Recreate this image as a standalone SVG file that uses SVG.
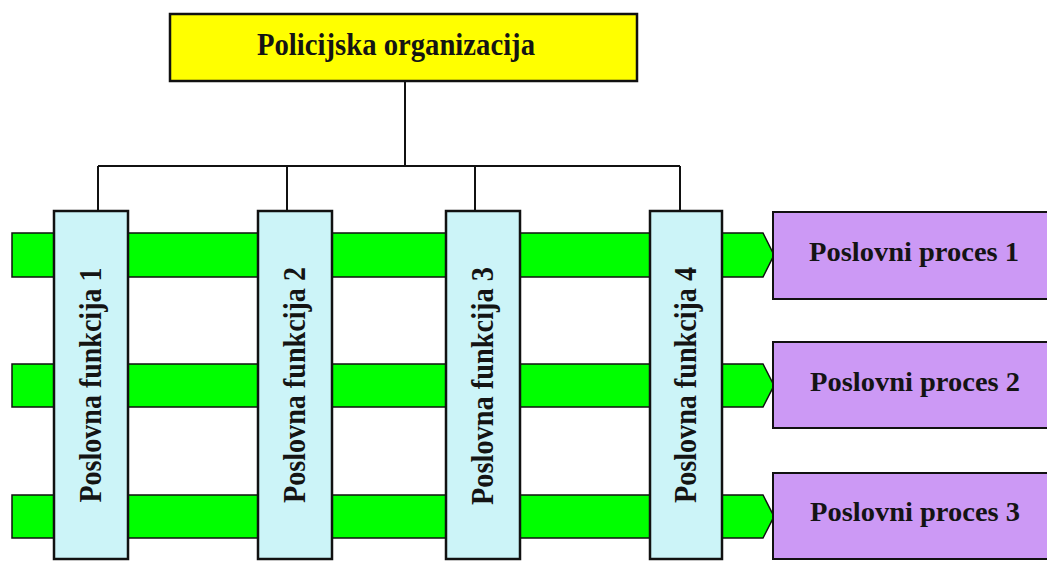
<svg xmlns="http://www.w3.org/2000/svg" width="1047" height="572" viewBox="0 0 1047 572">
<style>
.bar{fill:#00FF00;stroke:#111;stroke-width:1.5}
.fn rect{fill:#CCF4F8;stroke:#111;stroke-width:2.5}
.pr rect{fill:#CC99F5;stroke:#111;stroke-width:2}
.conn{fill:none;stroke:#111;stroke-width:2}
text{font-family:"Liberation Serif","Times New Roman",serif;font-weight:bold;fill:#141414;text-anchor:middle}
.ft{font-size:31px}
.pt{font-size:27px}
</style>
<rect width="1047" height="572" fill="#fff"/>
<g id="connectors">
<path class="conn" d="M405,81 V166 M98,166 H680 M98,166 V212 M287,166 V212 M475,166 V212 M680,166 V212"/>
</g>
<g id="flows">
<polygon class="bar" points="12,233 763,233 774,255 763,277 12,277"/>
<polygon class="bar" points="12,364 763,364 774,385.5 763,407 12,407"/>
<polygon class="bar" points="12,495 763,495 774,516.5 763,538 12,538"/>
</g>
<g id="org">
<rect x="170" y="14" width="467" height="67" fill="#FFFF00" stroke="#111" stroke-width="2.5"/>
<text x="396" y="55" style="font-size:31px" textLength="278" lengthAdjust="spacingAndGlyphs">Policijska organizacija</text>
</g>
<g id="funkcija1" class="fn">
<rect x="54" y="211" width="74" height="348"/>
<text class="ft" transform="translate(101,385) rotate(-90)" textLength="235" lengthAdjust="spacingAndGlyphs">Poslovna funkcija 1</text>
</g>
<g id="funkcija2" class="fn">
<rect x="258" y="211" width="74" height="348"/>
<text class="ft" transform="translate(305,385) rotate(-90)" textLength="236" lengthAdjust="spacingAndGlyphs">Poslovna funkcija 2</text>
</g>
<g id="funkcija3" class="fn">
<rect x="446" y="211" width="74" height="348"/>
<text class="ft" transform="translate(493,386) rotate(-90)" textLength="238" lengthAdjust="spacingAndGlyphs">Poslovna funkcija 3</text>
</g>
<g id="funkcija4" class="fn">
<rect x="650" y="211" width="72" height="348"/>
<text class="ft" transform="translate(696,385) rotate(-90)" textLength="236" lengthAdjust="spacingAndGlyphs">Poslovna funkcija 4</text>
</g>
<g id="proces1" class="pr">
<rect x="773" y="212" width="280" height="87"/>
<text class="pt" x="914" y="261" textLength="210" lengthAdjust="spacingAndGlyphs">Poslovni proces 1</text>
</g>
<g id="proces2" class="pr">
<rect x="773" y="342" width="280" height="86"/>
<text class="pt" x="915" y="391" textLength="210" lengthAdjust="spacingAndGlyphs">Poslovni proces 2</text>
</g>
<g id="proces3" class="pr">
<rect x="773" y="473" width="280" height="86"/>
<text class="pt" x="915" y="521" textLength="210" lengthAdjust="spacingAndGlyphs">Poslovni proces 3</text>
</g>
</svg>
